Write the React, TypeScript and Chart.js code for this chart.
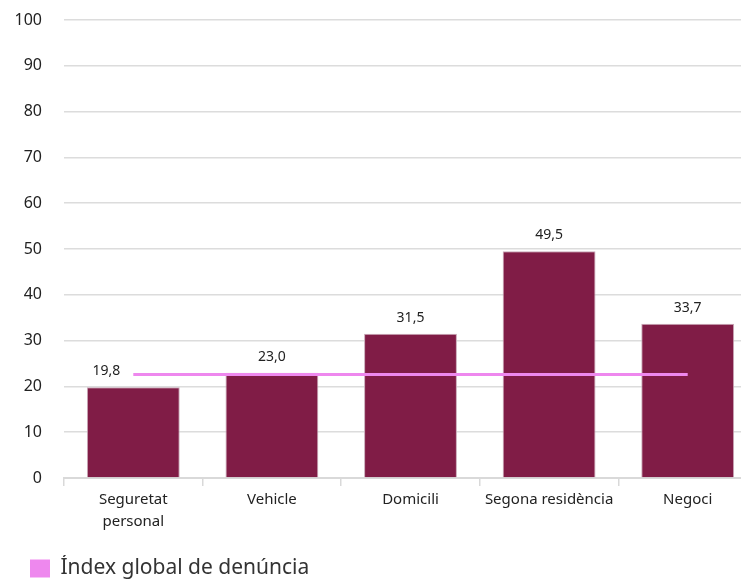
import React, { useEffect, useRef } from "react";
import { Chart, registerables } from "chart.js";

Chart.register(...registerables);

const categories: (string | string[])[] = [
  ["Seguretat", "personal"],
  "Vehicle",
  "Domicili",
  "Segona residència",
  "Negoci",
];
const values = [19.8, 23.0, 31.5, 49.5, 33.7];
const globalIndexLabel = "Índex global de denúncia";
const globalIndex = [22.6, 22.6, 22.6, 22.6, 22.6];
const yTicks = [0, 10, 20, 30, 40, 50, 60, 70, 80, 90, 100];

const BAR_COLOR = "#801c46";
const LINE_COLOR = "#ee88ee";
const FONT = "'Noto Sans', sans-serif";
const labelShift = [-27, 0, 0, 0, 0];

const valueLabels = {
  id: "valueLabels",
  afterLayout(chart: any) {
    if (chart.legend) {
      chart.legend.left += 27;
      chart.legend.right += 27;
    }
  },
  afterDatasetsDraw(chart: any) {
    const meta = chart.getDatasetMeta(0);
    const ctx = chart.ctx;
    ctx.save();
    ctx.font = `14px ${FONT}`;
    ctx.fillStyle = "#222";
    ctx.textAlign = "center";
    ctx.textBaseline = "middle";
    meta.data.forEach((el: any, i: number) => {
      const v = values[i];
      ctx.fillText(v.toFixed(1).replace(".", ","), el.x + labelShift[i], el.y - 16);
    });
    ctx.restore();
  },
};

export default function App() {
  const ref = useRef<HTMLCanvasElement | null>(null);
  useEffect(() => {
    if (!ref.current) return;
    const chart = new Chart(ref.current, {
      type: "bar",
      data: {
        labels: categories,
        datasets: [
          {
            type: "bar",
            label: "Valor",
            data: values,
            backgroundColor: BAR_COLOR,
            borderColor: "#c9a9b8",
            borderWidth: 1,
            categoryPercentage: 1,
            barPercentage: 0.67,
            order: 1,
          },
          {
            type: "line",
            label: globalIndexLabel,
            data: globalIndex,
            borderColor: LINE_COLOR,
            backgroundColor: LINE_COLOR,
            borderWidth: 3,
            pointRadius: 0,
            order: 0,
          },
        ] as any,
      },
      options: {
        responsive: false,
        animation: false,
        devicePixelRatio: 1,
        layout: { padding: { left: 0, top: 20, right: 0, bottom: 0 } },
        plugins: {
          tooltip: { enabled: false },
          legend: {
            display: true,
            position: "bottom",
            align: "start",
            labels: {
              boxWidth: 20,
              boxHeight: 18,
              padding: 3,
              color: "#333",
              font: { size: 21, family: FONT },
              generateLabels: (c: any) =>
                Chart.defaults.plugins.legend.labels
                  .generateLabels(c)
                  .filter((l: any) => l.datasetIndex === 1)
                  .map((l: any) => ({ ...l, lineWidth: 0 })),
            },
          },
        },
        scales: {
          x: {
            offset: true,
            grid: {
              offset: true,
              drawOnChartArea: false,
              drawTicks: true,
              tickLength: 8,
              color: "#d9d9d9",
              lineWidth: 1.5,
            },
            border: { display: true, color: "#d9d9d9", width: 2 },
            ticks: {
              color: "#222",
              padding: 2,
              font: { size: 15, family: FONT, lineHeight: 1.5 },
              maxRotation: 0,
              autoSkip: false,
            },
            afterFit: (s: any) => {
              s.height = 77;
            },
          },
          y: {
            min: 0,
            max: 100,
            afterBuildTicks: (s: any) => {
              s.ticks = yTicks.map((v) => ({ value: v }));
            },
            grid: { color: "#dcdcdc", lineWidth: 1.5, drawTicks: false },
            border: { display: false },
            ticks: {
              color: "#222",
              padding: 22,
              font: { size: 16, family: FONT },
            },
            afterFit: (s: any) => {
              s.width = 64;
              s.paddingTop = 0;
              s.paddingBottom = 0;
            },
          },
        },
      },
      plugins: [valueLabels],
    });
    return () => chart.destroy();
  }, []);

  return (
    <div
      style={{
        position: "fixed",
        left: 0,
        top: 0,
        width: 741,
        height: 581,
        overflow: "hidden",
        background: "#fff",
      }}
    >
      <canvas ref={ref} width={757} height={589} style={{ display: "block" }} />
    </div>
  );
}
